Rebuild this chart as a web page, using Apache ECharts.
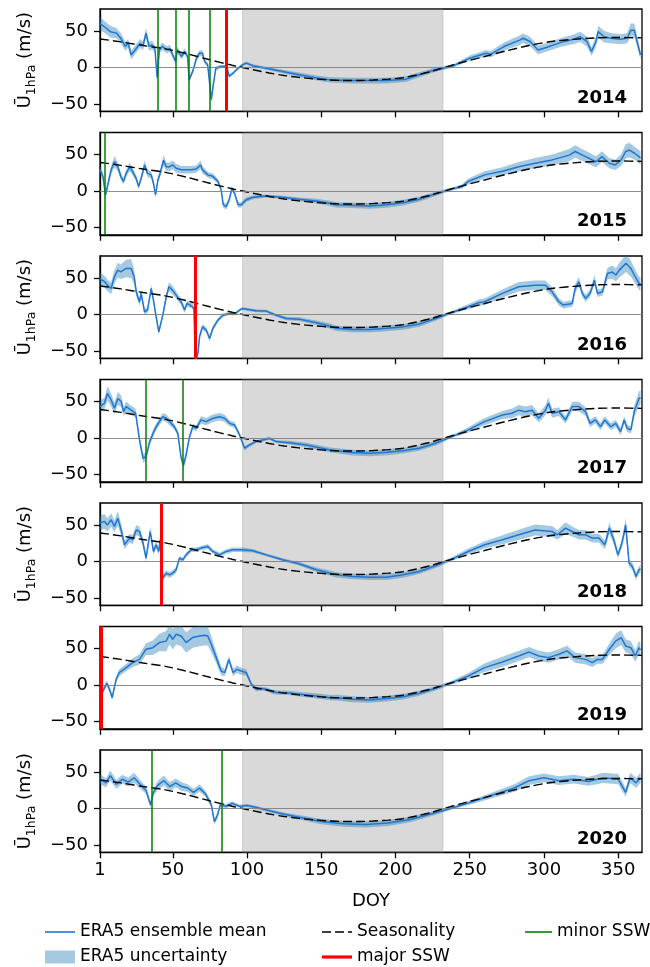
<!DOCTYPE html>
<html>
<head>
<meta charset="utf-8">
<script src="https://cdn.jsdelivr.net/npm/echarts@6/dist/echarts.min.js"></script>
<style>html,body{margin:0;padding:0;background:#fff;}#c{width:650px;height:967px;}</style>
</head>
<body>
<div id="c"></div>
<script>
const years = ['2014','2015','2016','2017','2018','2019','2020'];
const doyTicks = [1,50,100,150,200,250,300,350];
const yTicks = [-50,0,50];
const summerSpan = [97, 232];
const majorSSW = [[86],[],[65],[],[42],[2],[]];
const minorSSW = [[40,52,61,75],[4.5],[],[32,57],[],[],[36,83]];

// Seasonality [doy, value]
const seasonality = [[1,39],[15,35],[30,30],[45,25.5],[60,18.5],[75,10.5],[90,3],[97,0],[105,-3.5],[115,-7.5],[125,-11],[135,-13.5],[145,-15.5],[155,-17],[165,-17.8],[175,-17.8],[185,-17.2],[195,-16],[205,-14],[215,-10],[225,-5],[232,-0.5],[245,7],[260,15],[275,23],[290,30],[305,35.5],[320,38.5],[335,40.5],[350,41],[366,40.5]];

// ERA5 ensemble mean: [doy, mean, half-width of uncertainty]
const era2014 = [[1,60,9],[5,54,8],[8,49,8],[12,47,7],[15,40,7],[18,29,6],[20,33,6],[22,17,6],[25,25,6],[28,33,6],[30,30,6],[32,47,7],[34,29,6],[36,31,6],[38,25,5],[39.5,-14,4],[41,24,5],[43,29,5],[46,24,5],[48,26,5],[50,17,4],[52,8,4],[53,24,5],[56,15,4],[58,22,4],[60,15,4],[61,-17,4],[63.5,-5,3],[66,13,4],[68,19.5,4],[70,19.5,4],[71.5,8,3],[73.5,3.6,3],[76,-44,4],[77,-28,3],[79,-1,3],[82.5,1.4,2],[85,1.4,2],[86.5,0,2],[88,-12,2.5],[90.5,-8,2],[94,-1,2],[97,3.6,2],[99.5,6,2],[104,2.3,2],[113,-1,2],[124,-5.5,2.5],[135,-10,3],[147,-14.5,3.5],[156,-17,3.5],[171,-18,4],[194,-18,4],[207,-16,4],[216,-10,3.5],[227,-3,3],[238,1.4,2],[250,12.7,3.5],[261,19.5,4.5],[264,18,4.5],[273,28.6,5.5],[284,37.7,6.5],[286,40,6.5],[290.6,35.5,6.5],[296,24,6],[302,27.7,6],[311,34,6],[320,38.6,6.5],[324.5,42,7],[329,35.5,7],[332,21.8,6],[335,35.5,7],[336.5,49,8],[340.5,42,8],[345,40,7],[351.6,38.6,7],[356,40,7],[358.5,51,9],[360.8,51,9],[363,33,7],[365,17,6]];
const era2015 = [[1,29,5],[3,20,5],[4.7,-5.5,4],[6,6,5],[8.5,29,6],[10.8,40,8],[13,33,6],[15,20,5],[16.8,13,4],[18.6,24,5],[21,33,6],[23,26.5,5],[25.4,17,4],[27,6,4],[28.7,17,4],[31,35.6,6],[33,24,5],[35.5,22,5],[37,10.5,4],[38.4,-5.5,4],[40,15,4],[41.5,24,5],[43.8,42,7],[45.6,33,6],[47.8,33,6],[50,35.6,6],[52.3,31,6],[55.7,29,5],[58,29,5],[62.4,29,5],[65.8,30,5],[68.7,35.6,6],[70,29,5],[73.6,22,4],[77,20,4],[80.5,13,3.5],[82.6,1.4,3],[84,-19,4],[86,-21.5,4],[88,-12,3.5],[89.9,3.6,3.5],[91.6,-3,3],[94,-19,4],[96,-19,3.5],[99.5,-12,3],[104,-8.7,2.5],[113,-7,2],[124,-8.7,2],[135,-11.4,2.5],[146.7,-13.7,3],[156,-17,3.5],[160,-19,3.5],[183,-20.5,4],[194,-19,4],[205,-16,4],[216,-11.4,3.5],[227,-4,3],[238,2.7,2],[244.6,6,3],[249,13,4],[260,22,5],[272,27,5.5],[283,33,6.5],[294,38,7],[305.5,42.5,7.5],[317,49,8.5],[321,54,8.5],[328,47,8],[335,40,7.5],[339,47,7.5],[344,38,7],[348,35.6,7],[352,42.5,8],[355,54,10],[357.5,56,10],[361,51.6,9],[364,47,9],[365,45,9]];
const era2016 = [[1,49,8],[4,45,8],[6,40,8],[8.5,35.6,8],[10.7,51.6,9],[13,60.7,10],[15,58.4,10],[18.6,63,12],[22,63,13],[24,51.6,10],[25.4,31,6],[27.6,17,5],[28.7,29,5],[31,3.7,4],[33,6,4],[35.5,35.6,5],[37,19.6,4],[38.8,-3.2,4],[40.6,-23.7,4],[43.3,-1,4],[45.6,24,5],[47.4,38,6],[50,33,6],[52.3,26.5,5],[55.7,17,4],[58,6,4],[59.5,15,4],[61.8,12.8,4],[63,15,4],[64.2,8,4],[65.3,-62,4],[67,-53,4],[68,-30.6,4],[70,-17,4],[72.6,-21.5,4],[74.8,-33,4],[77,-19,3.5],[80.4,-7.8,3],[83.8,-1,2.5],[88,1.4,2],[91.6,0.5,2],[95,6,2],[97,8,2],[100.6,6.8,2],[106,5,2],[113,4.6,2],[119.7,-1,2],[126.5,-5.5,2.5],[135,-6.4,2.5],[146.7,-11.4,3],[156,-16,3.5],[160,-19,3.5],[171,-20.5,4],[183,-20.5,4],[194,-19,4],[205,-17,4],[216,-13.2,3.5],[227,-5.5,3],[238,2.7,2],[249,10.5,3.5],[256,16,4.5],[260,17.4,4.5],[272,28.8,5.5],[283,38,6.5],[294,40,6.5],[301,40,6.5],[305.5,31,6],[310,17.4,5],[313,12.8,4.5],[319,15,4.5],[321,35.6,6],[323.5,44.7,6.5],[325.8,28.8,5],[328,22,5],[331,28.8,5],[334,47,6.5],[336,28.8,5],[339.4,31,5],[342.7,56,8],[346,58,9],[348.4,54,9],[350.7,60.7,10],[355.2,70,12],[358.5,63,11],[360.8,54,10],[364,42.5,9],[365,42,9]];
const era2017 = [[1,43,8],[4,47.5,8],[6,61,10],[8.5,52,9],[10.7,40.6,8],[13,54,9],[15.3,50,8],[16.8,36,6],[18.6,43,7],[22,38,6],[25,33.8,6],[27.6,-2.7,5],[30,-27.8,6],[32,-25.6,6],[34.5,-5,5],[37.7,11,5],[41,22.4,5],[43.3,29,5],[45.6,27,5],[47.8,22.4,5],[51,15.5,4],[53.4,6.4,4],[55.7,-27.8,5],[57.3,-37,5],[59,-23,5],[61.3,1.8,4],[63.5,15.5,4],[65.8,13.2,4],[69,24.7,5],[72.5,22.4,5],[77,27,5],[81.5,29,5],[84.9,27,5],[88.3,20,4],[91.6,17.8,4],[95,4,3],[98.4,-14,3],[101.7,-9.6,2.5],[106,-5,2],[110.7,-2.7,2],[115,-0.5,2],[119.7,-5,2],[128.7,-6.4,2.5],[140,-9.6,3],[156,-16.4,3.5],[160,-17.4,3.5],[171,-20,4],[183,-21,4],[194,-19.6,4],[205,-17.4,4],[216,-14,3.5],[227,-7.3,3],[238,1.8,2],[249,11,3.5],[260,22.4,5],[272,31.5,5.5],[278.5,33.8,6.5],[283,38,7],[287.5,36,7],[292,38,7],[296.5,27,6],[301,38,7],[303,47.5,8],[305.5,33.8,6],[310,36,6],[314.5,24.7,5],[319,43,6.5],[323.5,43,6.5],[328,36,6],[331,20,5],[334.6,24.7,5],[338,15.5,5],[341,24.7,5],[345,15.5,5],[348.3,20,5],[351.6,8.7,5],[354,24.7,5],[356,13.2,5],[358.5,11,5],[361,38,8],[364,54,10],[365,55,10]];
const era2018 = [[1,52.5,10],[4,54.8,10],[6,50,9],[8.5,57,9],[10.7,48,8],[13,59,10],[15.3,43,8],[17.5,22.8,6],[21,32,6],[23,29.7,6],[25.4,43,7],[27.6,41,7],[30,25,6],[32,4.6,5],[34.8,41,7],[37,13.7,5],[38.8,22.8,5],[40.6,13.7,5],[41.5,29.7,5],[43.3,-22.8,4],[45.6,-16,4],[47.8,-18.3,4],[50,-16,4],[52.3,-11.4,4],[54.5,4.6,3],[56.8,2.3,3],[59,9,3],[62.4,16,3],[65.8,16,3],[69,18.3,3],[73.6,20.5,3.5],[77,13.7,3],[81.5,9,3],[86,13.7,3],[90.5,16,3],[97,16,3],[104,14.6,2.5],[113,9,2],[124,2.3,2],[135,-3.2,2.5],[146.7,-11.4,3],[156,-16,3.5],[160,-18.3,3.5],[171,-20.5,4],[183,-21.5,4],[194,-21.5,4],[205,-18.3,4],[216,-13.7,3.5],[227,-6,3],[238,3.2,2.5],[249,13.7,4],[260,22.8,5],[272,29.7,6],[283,36.5,7],[294,43,7.5],[305.5,41,7.5],[309,36.5,6.5],[314.5,45.7,8],[319,41,7],[323.5,36.5,6.5],[328,36.5,6.5],[332.5,32,6],[337,32,6],[341,22.8,6],[344,45.7,8],[347,29.7,6],[349.8,9,5],[352.5,25,6],[355,50,9],[357.3,-2.3,5],[359.5,-6.8,5],[362,-20.5,5],[364,-11.4,5],[365,-10,5]];
const era2019 = [[1,-12.8,4],[3,-8,4],[5.6,2.3,4],[7.4,-6,4],[9.2,-17.4,4],[11.9,7.8,4],[14,17,5],[18.6,23.7,5],[23,30.6,6],[27.6,35,7],[32,49,8],[36.6,51,10],[41,58,12],[45.6,60,14],[47.8,69.4,14],[50,62.6,14],[52.3,69.4,14],[55.7,67,14],[59,58,14],[63.5,65,14],[68,67,14],[71.4,68,14],[73.6,67,13],[75.9,55.7,11],[79.3,37.4,8],[82.6,19,6],[85,16.9,5],[87.8,35,5],[90.6,16.9,5],[93.2,21.5,5],[96,19,5],[99.5,16.9,4],[102.9,1,3],[106.3,-6,3],[109.6,-5,2.5],[113,-6,2.5],[117.6,-9.6,3],[121,-10.5,3],[126.5,-10.5,3],[135.4,-12.8,3],[146.7,-15,3.5],[156,-17.4,3.5],[160,-17.4,4],[171,-19.6,4],[183,-20.5,4],[194,-18.7,4],[205,-16,4],[216,-11.4,3.5],[227,-4.6,3],[238,3.2,2.5],[249,12.3,4],[260,23.7,6],[272,31.5,7],[283,39.7,7],[290,45,7],[296.5,39.7,7],[303,37.4,7],[310,42,7],[315.5,46.6,7],[321,37.4,7],[328,35,7],[332.5,30.6,6],[336,35,6],[339.4,35,6],[344,48.9,8],[348.4,60.3,10],[352,64.8,10],[355,53.4,9],[358.5,51,9],[361.5,39.7,8],[364,51,9],[365,48,9]];
const era2020 = [[1,40,7],[5,35,6],[8,45,7],[12,33,6],[16,40,6],[20,36,6],[24,42,7],[28,33,6],[32,25,5],[35,5,4],[37,22,5],[40,32,6],[44,38,7],[48,30,6],[52,35,6],[56,30,6],[60,28,5],[64,22,5],[68,28,5],[72,20,4],[76,5,4],[78,-18,4],[80,-10,4],[82,5,3],[86,3,3],[90,7,3],[95,3,2],[100,4,2],[105,2,2],[115,-3,2],[125,-8,2.5],[135,-12,3],[150,-18,3.5],[165,-21,4],[180,-22,4],[195,-20,4],[210,-15,4],[225,-7,3],[237,0,2],[250,8,3],[265,18,4],[280,28,5],[290,38,6],[300,42,6],[310,38,6],[320,40,6],[330,37,6],[340,42,7],[350,40,7],[355,22,6],[358,42,7],[362,35,7],[365,42,7]];
const eraByYear = [era2014, era2015, era2016, era2017, era2018, era2019, era2020];

const FONT = 'DejaVu Sans';
const FS = 18;
const gridTops = [9, 132.5, 256, 379.5, 503, 626.5, 750];
const gridH = 102.3;
const lineBlue = '#1f77d0';
const bandBlue = 'rgba(31,119,180,0.4)';

const grids = [], xAxes = [], yAxes = [], series = [], titles = [];
years.forEach((yr, i) => {
  const last = i === years.length - 1;
  grids.push({left: 100, right: 8, top: gridTops[i], height: gridH, show: true, borderColor: '#000', borderWidth: 1.3, backgroundColor: 'transparent'});
  xAxes.push({
    type: 'value', gridIndex: i, min: 1, max: 366,
    axisLine: {show: true, onZero: false, lineStyle: {color: '#000', width: 1.3}},
    axisTick: {show: true, length: 6, customValues: doyTicks, lineStyle: {color: '#000', width: 1.3}},
    axisLabel: {show: last, customValues: doyTicks, color: '#000', fontSize: FS, fontFamily: FONT, margin: 9},
    splitLine: {show: false},
    name: last ? 'DOY' : '', nameLocation: 'middle', nameGap: 40,
    nameTextStyle: {color: '#000', fontSize: FS, fontFamily: FONT}
  });
  yAxes.push({
    type: 'value', gridIndex: i, min: -60, max: 80,
    axisLine: {show: true, lineStyle: {color: '#000', width: 1.3}},
    axisTick: {show: true, length: 6, customValues: yTicks, lineStyle: {color: '#000', width: 1.3}},
    axisLabel: {customValues: yTicks, color: '#000', fontSize: FS, fontFamily: FONT, margin: 12,
      formatter: v => (v < 0 ? '\u2212' + Math.abs(v) : String(v))},
    splitLine: {show: false},
    name: (i % 2 === 0) ? '{u|Ū}{s|1hPa}{u| (m/s)}' : '',
    nameLocation: 'middle', nameRotate: 90, nameGap: 62,
    nameTextStyle: {color: '#000', fontFamily: FONT, rich: {
      u: {fontSize: FS, fontFamily: FONT, color: '#000', lineHeight: 26},
      s: {fontSize: 12.5, fontFamily: FONT, color: '#000', lineHeight: 12, verticalAlign: 'bottom'}
    }}
  });
  titles.push({text: yr, right: 23, top: gridTops[i] + 80, padding: 0,
    textStyle: {fontSize: FS, fontWeight: 'bold', fontFamily: FONT, color: '#000'}});

  const rows = eraByYear[i];
  // background: summer shading + zero line
  series.push({
    type: 'line', xAxisIndex: i, yAxisIndex: i, data: [], z: 1, silent: true,
    markArea: {silent: true, itemStyle: {color: 'rgba(128,128,128,0.3)', borderColor: 'rgba(128,128,128,0.25)', borderWidth: 1},
      data: [[{xAxis: summerSpan[0]}, {xAxis: summerSpan[1]}]]},
    markLine: {silent: true, symbol: 'none', label: {show: false}, animation: false,
      lineStyle: {color: '#808080', width: 0.9, type: 'solid'}, data: [{yAxis: 0}]}
  });
  // uncertainty band
  series.push({
    name: 'ERA5 uncertainty', type: 'custom', xAxisIndex: i, yAxisIndex: i, z: 2, clip: true, silent: true,
    itemStyle: {color: bandBlue},
    data: rows.map(r => [r[0], r[1] - r[2], r[1] + r[2]]),
    encode: {x: 0, y: [1, 2]},
    renderItem: (params, api) => {
      if (params.dataIndex !== 0) return null;
      const pts = [];
      rows.forEach(r => pts.push(api.coord([r[0], r[1] + r[2]])));
      for (let k = rows.length - 1; k >= 0; k--) pts.push(api.coord([rows[k][0], rows[k][1] - rows[k][2]]));
      return {type: 'polygon', shape: {points: pts}, style: {fill: bandBlue}};
    }
  });
  series.push({
    name: 'ERA5 ensemble mean', type: 'line', xAxisIndex: i, yAxisIndex: i, z: 3, silent: true,
    symbol: 'none', data: rows.map(r => [r[0], r[1]]),
    lineStyle: {color: lineBlue, width: 1.5}, itemStyle: {color: lineBlue}
  });
  series.push({
    name: 'Seasonality', type: 'line', xAxisIndex: i, yAxisIndex: i, z: 4, silent: true,
    symbol: 'none', smooth: 0.3, data: seasonality,
    lineStyle: {color: '#000', width: 1.4, type: [9, 4]}, itemStyle: {color: '#000'}
  });
  series.push({
    name: 'major SSW', type: 'line', xAxisIndex: i, yAxisIndex: i, z: 5, data: [], symbol: 'none',
    lineStyle: {color: '#ff0000', width: 3}, itemStyle: {color: '#ff0000'},
    markLine: {silent: true, symbol: 'none', label: {show: false}, animation: false,
      lineStyle: {color: '#ff0000', width: 3, type: 'solid'}, data: majorSSW[i].map(v => ({xAxis: v}))}
  });
  series.push({
    name: 'minor SSW', type: 'line', xAxisIndex: i, yAxisIndex: i, z: 5, data: [], symbol: 'none',
    lineStyle: {color: '#008000', width: 1.5}, itemStyle: {color: '#008000'},
    markLine: {silent: true, symbol: 'none', label: {show: false}, animation: false,
      lineStyle: {color: '#008000', width: 1.5, type: 'solid'}, data: minorSSW[i].map(v => ({xAxis: v}))}
  });
});

const legendText = {color: '#000', fontSize: 17, fontFamily: FONT, lineHeight: 18};
const legendBase = {orient: 'vertical', top: 923, height: 60, itemWidth: 30, itemHeight: 13, itemGap: 7, padding: 0,
  symbolKeepAspect: true, selectedMode: false, textStyle: legendText};
const iconLine = 'path://M0,0H30V1.6H0Z';
const iconThick = 'path://M0,0H30V3.2H0Z';
const iconDash = 'path://M0,0H9V1.5H0Z M13,0H22V1.5H13Z M26,0H30V1.5H26Z';
const option = {
  animation: false,
  backgroundColor: '#fff',
  title: titles,
  grid: grids, xAxis: xAxes, yAxis: yAxes, series: series,
  legend: [
    Object.assign({}, legendBase, {left: 45, data: [
      {name: 'ERA5 ensemble mean', icon: iconLine, itemStyle: {color: lineBlue, borderWidth: 0}},
      {name: 'ERA5 uncertainty', icon: 'rect', itemStyle: {color: bandBlue, borderWidth: 0}}]}),
    Object.assign({}, legendBase, {left: 322, data: [
      {name: 'Seasonality', icon: iconDash, itemStyle: {color: '#000', borderWidth: 0}},
      {name: 'major SSW', icon: iconThick, itemStyle: {color: '#ff0000', borderWidth: 0}}]}),
    Object.assign({}, legendBase, {left: 525, itemWidth: 27, data: [
      {name: 'minor SSW', icon: 'path://M0,0H27V1.6H0Z', itemStyle: {color: '#008000', borderWidth: 0}}]})
  ]
};
const chart = echarts.init(document.getElementById('c'), null, {renderer: 'canvas'});
chart.setOption(option);
</script>
</body>
</html>
